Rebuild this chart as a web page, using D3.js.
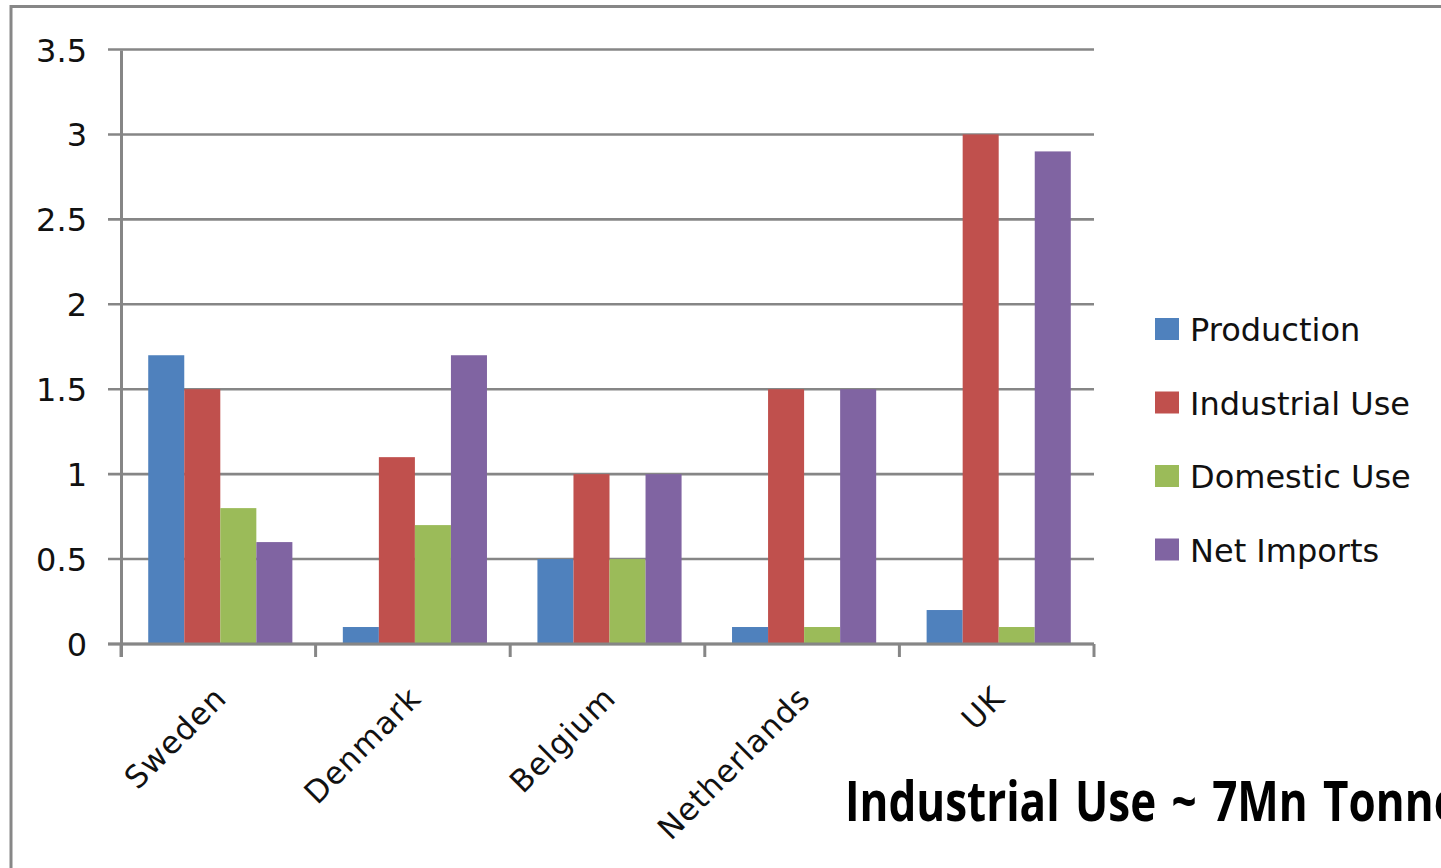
<!DOCTYPE html>
<html>
<head>
<meta charset="utf-8">
<script src="https://cdn.jsdelivr.net/npm/d3@7"></script>
<style>
  html, body { margin: 0; padding: 0; background: #fff; overflow: hidden; }
  svg { display: block; }
</style>
</head>
<body>
<svg id="chart" width="1441" height="868"></svg>
<script>
// Categories, series and tick values
const countries = ["Sweden", "Denmark", "Belgium", "Netherlands", "UK"];
const seriesNames = ["Production", "Industrial Use", "Domestic Use", "Net Imports"];
const production    = [1.7, 0.1, 0.5, 0.1, 0.2];
const industrialUse = [1.5, 1.1, 1.0, 1.5, 3.0];
const domesticUse   = [0.8, 0.7, 0.5, 0.1, 0.1];
const netImports    = [0.6, 1.7, 1.0, 1.5, 2.9];
const yTicks = [0, 0.5, 1, 1.5, 2, 2.5, 3, 3.5];
const yTickLabels = ["0", "0.5", "1", "1.5", "2", "2.5", "3", "3.5"];
const seriesColors = ["#4F81BD", "#C0504D", "#9BBB59", "#8064A2"];
const footnote = "Industrial Use ~ 7Mn Tonnes";

const seriesValues = [production, industrialUse, domesticUse, netImports];

const svg = d3.select("#chart");
const gridColor = "#868686";
const font = "'DejaVu Sans', sans-serif";

// Outer frame (top and left edges visible)
svg.append("path")
  .attr("d", "M11,880 L11,6.5 L1460,6.5")
  .attr("fill", "none")
  .attr("stroke", "#878787")
  .attr("stroke-width", 3);

// Scales
const x0 = d3.scaleBand().domain(countries).range([121, 1094]).padding(0);
const y = d3.scaleLinear().domain([0, 3.5]).range([644, 49.5]);
const groupW = x0.bandwidth() * 4 / 5.4;
const x1 = d3.scaleBand().domain(seriesNames)
  .range([(x0.bandwidth() - groupW) / 2 + 2, (x0.bandwidth() + groupW) / 2 + 2])
  .padding(0);

// Horizontal gridlines with short left ticks
svg.append("g")
  .selectAll("line")
  .data(yTicks)
  .join("line")
  .attr("x1", 108).attr("x2", 1094)
  .attr("y1", d => y(d)).attr("y2", d => y(d))
  .attr("stroke", gridColor)
  .attr("stroke-width", 2.6);

// Y tick labels
svg.append("g")
  .selectAll("text")
  .data(yTicks)
  .join("text")
  .attr("x", 87)
  .attr("y", d => y(d) + 12)
  .attr("text-anchor", "end")
  .attr("font-family", font)
  .attr("font-size", 32)
  .attr("fill", "#111")
  .text((d, i) => yTickLabels[i]);

// Bars
const groups = svg.append("g")
  .selectAll("g")
  .data(countries)
  .join("g")
  .attr("transform", d => `translate(${x0(d)},0)`);

groups.selectAll("rect")
  .data((c, ci) => seriesNames.map((s, si) => ({ s, si, v: seriesValues[si][ci] })))
  .join("rect")
  .attr("x", d => x1(d.s))
  .attr("width", x1.bandwidth())
  .attr("y", d => y(d.v))
  .attr("height", d => y(0) - y(d.v))
  .attr("fill", d => seriesColors[d.si]);

// Axes lines and category ticks
svg.append("line")
  .attr("x1", 121.5).attr("x2", 121.5)
  .attr("y1", y(3.5) + 1).attr("y2", 657)
  .attr("stroke", gridColor).attr("stroke-width", 3);

svg.append("line")
  .attr("x1", 108).attr("x2", 1094)
  .attr("y1", y(0)).attr("y2", y(0))
  .attr("stroke", gridColor).attr("stroke-width", 3);

const boundaries = countries.map(c => x0(c)).concat([x0(countries[countries.length - 1]) + x0.bandwidth()]);
svg.append("g")
  .selectAll("line")
  .data(boundaries)
  .join("line")
  .attr("x1", d => d).attr("x2", d => d)
  .attr("y1", y(0)).attr("y2", 657)
  .attr("stroke", gridColor).attr("stroke-width", 3);

// Rotated category labels
svg.append("g")
  .selectAll("text")
  .data(countries)
  .join("text")
  .attr("transform", d => `translate(${x0(d) + x0.bandwidth() / 2 + 10},700) rotate(-45)`)
  .attr("text-anchor", "end")
  .attr("font-family", font)
  .attr("font-size", 31)
  .attr("letter-spacing", 1)
  .attr("fill", "#111")
  .text(d => d);

// Legend
const legend = svg.append("g")
  .selectAll("g")
  .data(seriesNames)
  .join("g")
  .attr("transform", (d, i) => `translate(1155,${329 + i * 73.5})`);

legend.append("rect")
  .attr("x", 0).attr("y", -11)
  .attr("width", 24).attr("height", 22)
  .attr("fill", (d, i) => seriesColors[i]);

legend.append("text")
  .attr("x", 35).attr("y", 12)
  .attr("font-family", font)
  .attr("font-size", 32)
  .attr("fill", "#111")
  .text(d => d);

// Footnote (runs off the right edge)
svg.append("text")
  .attr("transform", "translate(845,821) scale(1,1.27)")
  .attr("font-family", "'Open Sans', sans-serif")
  .attr("font-weight", 700)
  .attr("font-size", 44)
  .attr("word-spacing", 4)
  .attr("fill", "#000")
  .text(footnote);
</script>
</body>
</html>
